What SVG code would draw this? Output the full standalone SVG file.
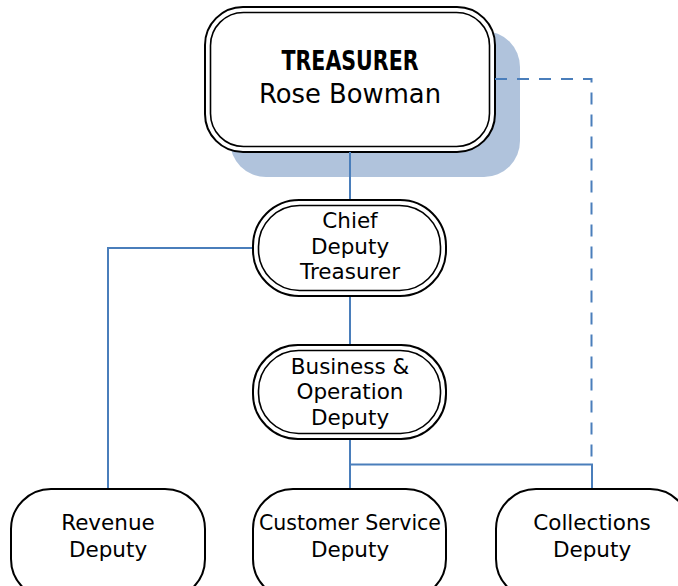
<svg xmlns="http://www.w3.org/2000/svg" width="678" height="586" viewBox="0 0 678 586">
<style>
.o{fill:#fff;stroke:#000;stroke-width:2}
.i{fill:none;stroke:#000;stroke-width:1.6}
.t{font-family:"DejaVu Sans","Noto Sans",sans-serif;font-size:21.5px;fill:#000;text-anchor:middle}
.c{fill:none;stroke:#4a7ebb;stroke-width:2}
.d{fill:none;stroke:#4a7ebb;stroke-width:2;stroke-dasharray:12 10}
</style>
<rect width="678" height="586" fill="#fff"/>
<g id="treasurer">
<rect x="230" y="31" width="290" height="146" rx="36" fill="#b0c3dc"/>
<rect class="o" x="205" y="7" width="290" height="145" rx="38"/>
<rect class="i" x="210.5" y="12.5" width="279" height="134" rx="33"/>
<text class="t" x="350" y="70" style="font-weight:bold;font-size:26px" textLength="137" lengthAdjust="spacingAndGlyphs">TREASURER</text>
<text class="t" x="350" y="103" style="font-size:27px" textLength="182" lengthAdjust="spacingAndGlyphs">Rose Bowman</text>
</g>
<g id="connectors">
<path class="c" d="M350,152V200"/>
<path class="c" d="M253,248H108V489"/>
<path class="c" d="M350,296V345"/>
<path class="c" d="M350,439V489"/>
<path class="c" d="M350,464.5H592V489"/>
<path class="d" d="M495,79H591.5V464"/>
</g>
<g id="chief">
<rect class="o" x="253" y="200" width="193" height="96" rx="46"/>
<rect class="i" x="258.5" y="205.5" width="182" height="85" rx="41"/>
<text class="t" x="350" y="228">Chief</text>
<text class="t" x="350" y="254">Deputy</text>
<text class="t" x="350" y="279">Treasurer</text>
</g>
<g id="business">
<rect class="o" x="253" y="345" width="193" height="94" rx="45"/>
<rect class="i" x="258.5" y="350.5" width="182" height="83" rx="40"/>
<text class="t" x="350" y="374">Business &amp;</text>
<text class="t" x="350" y="399">Operation</text>
<text class="t" x="350" y="425">Deputy</text>
</g>
<g id="revenue">
<rect class="o" x="11" y="489" width="194" height="110" rx="40"/>
<text class="t" x="108" y="530">Revenue</text>
<text class="t" x="108" y="557">Deputy</text>
</g>
<g id="customer">
<rect class="o" x="253" y="489" width="193" height="110" rx="40"/>
<text class="t" x="350" y="530" textLength="182" lengthAdjust="spacingAndGlyphs">Customer Service</text>
<text class="t" x="350" y="557">Deputy</text>
</g>
<g id="collections">
<rect class="o" x="496" y="489" width="194" height="110" rx="40"/>
<text class="t" x="592" y="530">Collections</text>
<text class="t" x="592" y="557">Deputy</text>
</g>
</svg>
